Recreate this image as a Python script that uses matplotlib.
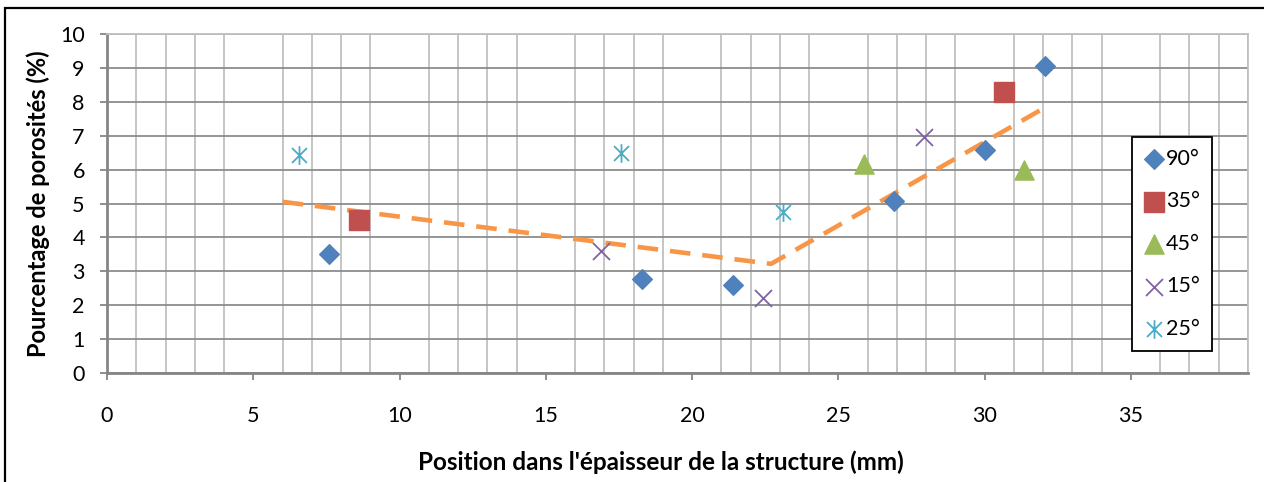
import matplotlib.pyplot as plt
import numpy as np
from matplotlib.path import Path
from matplotlib.patches import Rectangle

plt.rcParams['font.family'] = ['Lato', 'DejaVu Sans']

# données
x_90 = [7.6, 18.3, 21.4, 26.9, 30.0, 32.05]
y_90 = [3.5, 2.77, 2.61, 5.07, 6.57, 9.05]
x_35 = [8.63, 30.67]
y_35 = [4.5, 8.28]
x_45 = [25.87, 31.34]
y_45 = [6.17, 6.0]
x_15 = [16.9, 22.42, 27.93]
y_15 = [3.61, 2.2, 6.96]
x_25 = [6.56, 17.58, 23.1]
y_25 = [6.44, 6.49, 4.75]
trend_x = [6.0, 22.7, 32.0]
trend_y = [5.05, 3.22, 7.8]

# astérisque façon Excel : trait vertical + croix
star = Path([(0, -1), (0, 1), (-0.8, -0.8), (0.8, 0.8), (-0.8, 0.8), (0.8, -0.8)],
            [Path.MOVETO, Path.LINETO, Path.MOVETO, Path.LINETO, Path.MOVETO, Path.LINETO])

fig = plt.figure(figsize=(12.64, 4.82), dpi=100)
ax = fig.add_axes([107 / 1264, 1 - 373 / 482, (1248 - 107) / 1264, (373 - 34) / 482])

# cadre extérieur (bords haut et gauche visibles)
fig.patches.append(Rectangle((5 / 1264, -0.1), 1.2, 1 - 8 / 482 + 0.1, transform=fig.transFigure,
                             fill=False, edgecolor='black', linewidth=1.6))

ax.plot(trend_x, trend_y, color='#F79646', linewidth=3.3, dashes=(4.5, 2.6), zorder=2)

ax.scatter(x_90, y_90, marker='D', s=100, color='#4F81BD', label='90°', zorder=3)
ax.scatter(x_35, y_35, marker='s', s=190, color='#C0504D', label='35°', zorder=3)
ax.scatter(x_45, y_45, marker='^', s=190, color='#9BBB59', label='45°', zorder=3)
ax.scatter(x_15, y_15, marker='x', s=150, color='#8064A2', linewidths=1.3, label='15°', zorder=3)
ax.scatter(x_25, y_25, marker=star, s=180, color='#4BACC6', linewidths=1.3, label='25°', zorder=3)

ax.set_xlim(0, 39)
ax.set_ylim(0, 10)
ax.set_xticks(np.arange(0, 36, 5))
ax.set_xticks(np.arange(0, 40, 1), minor=True)
ax.set_yticks(np.arange(0, 11, 1))

ax.grid(True, which='major', axis='y', color='#8C8C8C', linewidth=1.3)
ax.grid(True, which='minor', axis='x', color='#C0C0C0', linewidth=1.3)
ax.set_axisbelow(True)

for side in ['left', 'bottom']:
    ax.spines[side].set_color('#868686')
    ax.spines[side].set_linewidth(2)
for side in ['top', 'right']:
    ax.spines[side].set_color('#C0C0C0')
    ax.spines[side].set_linewidth(1.3)

ax.tick_params(axis='x', which='major', length=5, width=1.3, color='#868686', pad=19, labelsize=15.5)
ax.tick_params(axis='x', which='minor', length=0)
ax.tick_params(axis='y', length=5, width=1.3, color='#868686', pad=11, labelsize=15.5)

ax.set_ylabel('Pourcentage de porosités (%)', fontsize=17, fontweight='bold', labelpad=7)
ax.set_xlabel("Position dans l'épaisseur de la structure (mm)", fontsize=17.5,
              fontweight='bold', labelpad=17)
ax.xaxis.label.set_x(0.485)

leg = ax.legend(loc='upper left', bbox_to_anchor=(0.898, 0.697), fontsize=15.5,
                frameon=True, fancybox=False, edgecolor='black', framealpha=1,
                labelspacing=1.05, handletextpad=0.05, handlelength=1.0,
                borderpad=0.55, borderaxespad=0, scatterpoints=1)
leg.get_frame().set_linewidth(1.3)

fig.savefig('out.png', dpi=100)
